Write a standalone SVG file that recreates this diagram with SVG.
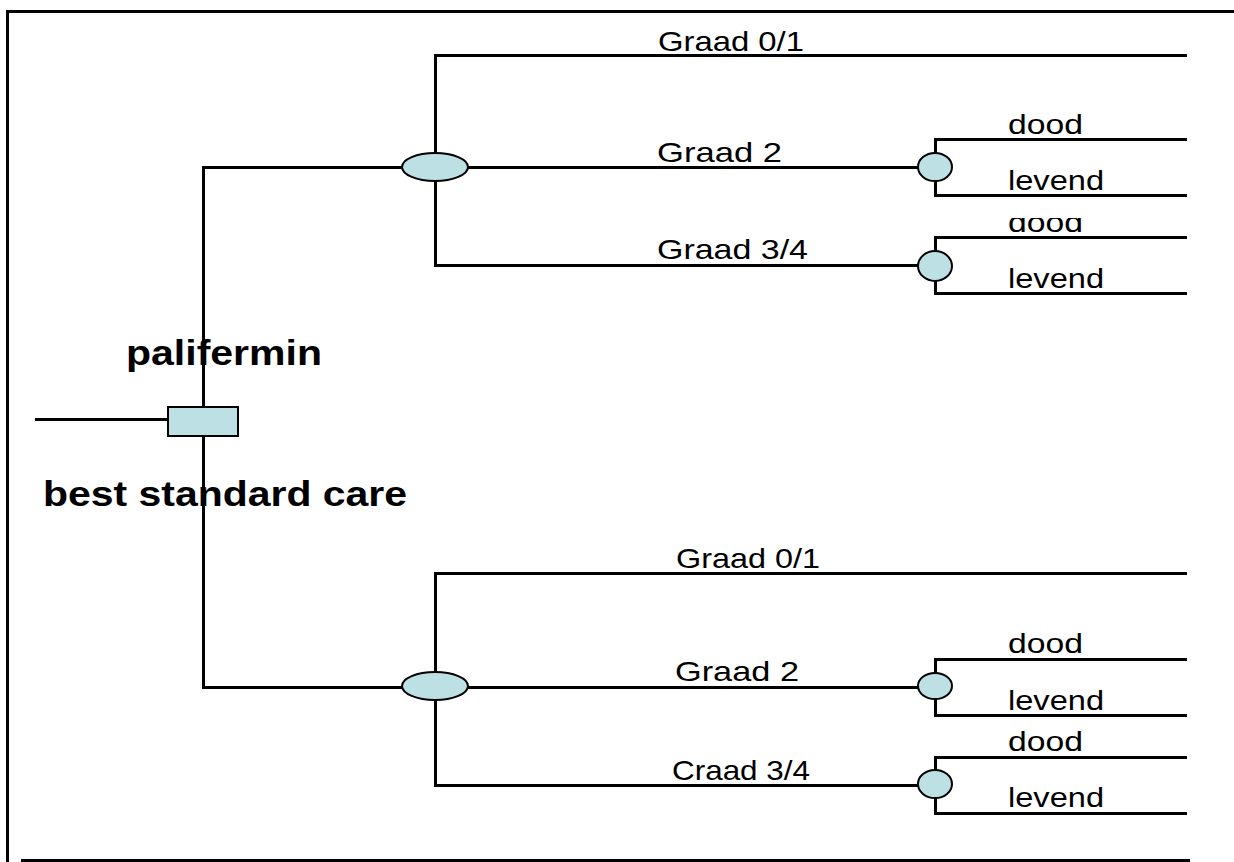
<svg xmlns="http://www.w3.org/2000/svg" width="1234" height="862" viewBox="0 0 1234 862">
  <style>
    .ln { stroke: #000; stroke-width: 3; fill: none; stroke-linecap: square; shape-rendering: crispEdges; }
    .node { fill: #BCE0E4; stroke: #000; stroke-width: 2; }
    .lbl { font-family: "Liberation Sans", Arial, sans-serif; font-size: 28px; fill: #000; }
    .opt { font-family: "Liberation Sans", Arial, sans-serif; font-size: 35px; font-weight: bold; fill: #000; }
  </style>
  <defs>
    <clipPath id="clipTop">
      <rect x="990" y="218" width="120" height="30"/>
    </clipPath>
  </defs>
  <rect width="1234" height="862" fill="#fff"/>

  <!-- frame -->
  <g id="frame">
    <line class="ln" x1="7.5" y1="11.5" x2="1234" y2="11.5"/>
    <line class="ln" x1="7.5" y1="11.5" x2="7.5" y2="862"/>
    <line class="ln" x1="22" y1="860.5" x2="1188" y2="860.5"/>
  </g>

  <!-- branches -->
  <g id="connectors">
    <!-- root -->
    <line class="ln" x1="36" y1="419" x2="168" y2="419"/>
    <line class="ln" x1="203" y1="167" x2="203" y2="687"/>
    <line class="ln" x1="203" y1="167" x2="402" y2="167"/>
    <line class="ln" x1="203" y1="687" x2="402" y2="687"/>

    <!-- upper chance tree -->
    <line class="ln" x1="435" y1="55" x2="435" y2="265"/>
    <line class="ln" x1="435" y1="55" x2="1185" y2="55"/>
    <line class="ln" x1="468" y1="167" x2="918" y2="167"/>
    <line class="ln" x1="435" y1="265" x2="918" y2="265"/>
    <line class="ln" x1="935" y1="139" x2="935" y2="195"/>
    <line class="ln" x1="935" y1="139" x2="1185" y2="139"/>
    <line class="ln" x1="935" y1="195" x2="1185" y2="195"/>
    <line class="ln" x1="935" y1="237" x2="935" y2="293"/>
    <line class="ln" x1="935" y1="237" x2="1185" y2="237"/>
    <line class="ln" x1="935" y1="293" x2="1185" y2="293"/>

    <!-- lower chance tree -->
    <line class="ln" x1="435" y1="573" x2="435" y2="785"/>
    <line class="ln" x1="435" y1="573" x2="1185" y2="573"/>
    <line class="ln" x1="468" y1="687" x2="918" y2="687"/>
    <line class="ln" x1="435" y1="785" x2="918" y2="785"/>
    <line class="ln" x1="935" y1="659" x2="935" y2="715"/>
    <line class="ln" x1="935" y1="659" x2="1185" y2="659"/>
    <line class="ln" x1="935" y1="715" x2="1185" y2="715"/>
    <line class="ln" x1="935" y1="757" x2="935" y2="813"/>
    <line class="ln" x1="935" y1="757" x2="1185" y2="757"/>
    <line class="ln" x1="935" y1="813" x2="1185" y2="813"/>
  </g>

  <!-- decision node -->
  <g id="decision">
    <rect class="node" x="168" y="407" width="70" height="29"/>
    <text class="opt" x="126" y="365" textLength="196" lengthAdjust="spacingAndGlyphs">palifermin</text>
    <text class="opt" x="43" y="506" textLength="364" lengthAdjust="spacingAndGlyphs">best standard care</text>
  </g>

  <!-- upper branch -->
  <g id="chance-upper">
    <ellipse class="node" cx="435" cy="167" rx="33" ry="14"/>
    <text class="lbl" x="658" y="51" textLength="146" lengthAdjust="spacingAndGlyphs">Graad 0/1</text>
    <text class="lbl" x="657" y="162" textLength="125" lengthAdjust="spacingAndGlyphs">Graad 2</text>
    <text class="lbl" x="657" y="259" textLength="151" lengthAdjust="spacingAndGlyphs">Graad 3/4</text>
  </g>
  <g id="chance-upper-g2">
    <ellipse class="node" cx="935" cy="167" rx="17" ry="14"/>
    <text class="lbl" x="1008" y="134" textLength="75" lengthAdjust="spacingAndGlyphs">dood</text>
    <text class="lbl" x="1008" y="190" textLength="96" lengthAdjust="spacingAndGlyphs">levend</text>
  </g>
  <g id="chance-upper-g34">
    <ellipse class="node" cx="935" cy="266" rx="17" ry="15"/>
    <text class="lbl" x="1008" y="232" textLength="75" lengthAdjust="spacingAndGlyphs" clip-path="url(#clipTop)">dood</text>
    <text class="lbl" x="1008" y="288" textLength="96" lengthAdjust="spacingAndGlyphs">levend</text>
  </g>

  <!-- lower branch -->
  <g id="chance-lower">
    <ellipse class="node" cx="435" cy="686" rx="33" ry="14"/>
    <text class="lbl" x="676" y="568" textLength="144" lengthAdjust="spacingAndGlyphs">Graad 0/1</text>
    <text class="lbl" x="675" y="681" textLength="124" lengthAdjust="spacingAndGlyphs">Graad 2</text>
    <text class="lbl" x="672" y="780" textLength="138" lengthAdjust="spacingAndGlyphs">Craad 3/4</text>
  </g>
  <g id="chance-lower-g2">
    <ellipse class="node" cx="935" cy="686" rx="17" ry="13"/>
    <text class="lbl" x="1008" y="653" textLength="75" lengthAdjust="spacingAndGlyphs">dood</text>
    <text class="lbl" x="1008" y="710" textLength="96" lengthAdjust="spacingAndGlyphs">levend</text>
  </g>
  <g id="chance-lower-g34">
    <ellipse class="node" cx="935" cy="784" rx="17" ry="14"/>
    <text class="lbl" x="1008" y="751" textLength="75" lengthAdjust="spacingAndGlyphs">dood</text>
    <text class="lbl" x="1008" y="807" textLength="96" lengthAdjust="spacingAndGlyphs">levend</text>
  </g>
</svg>
